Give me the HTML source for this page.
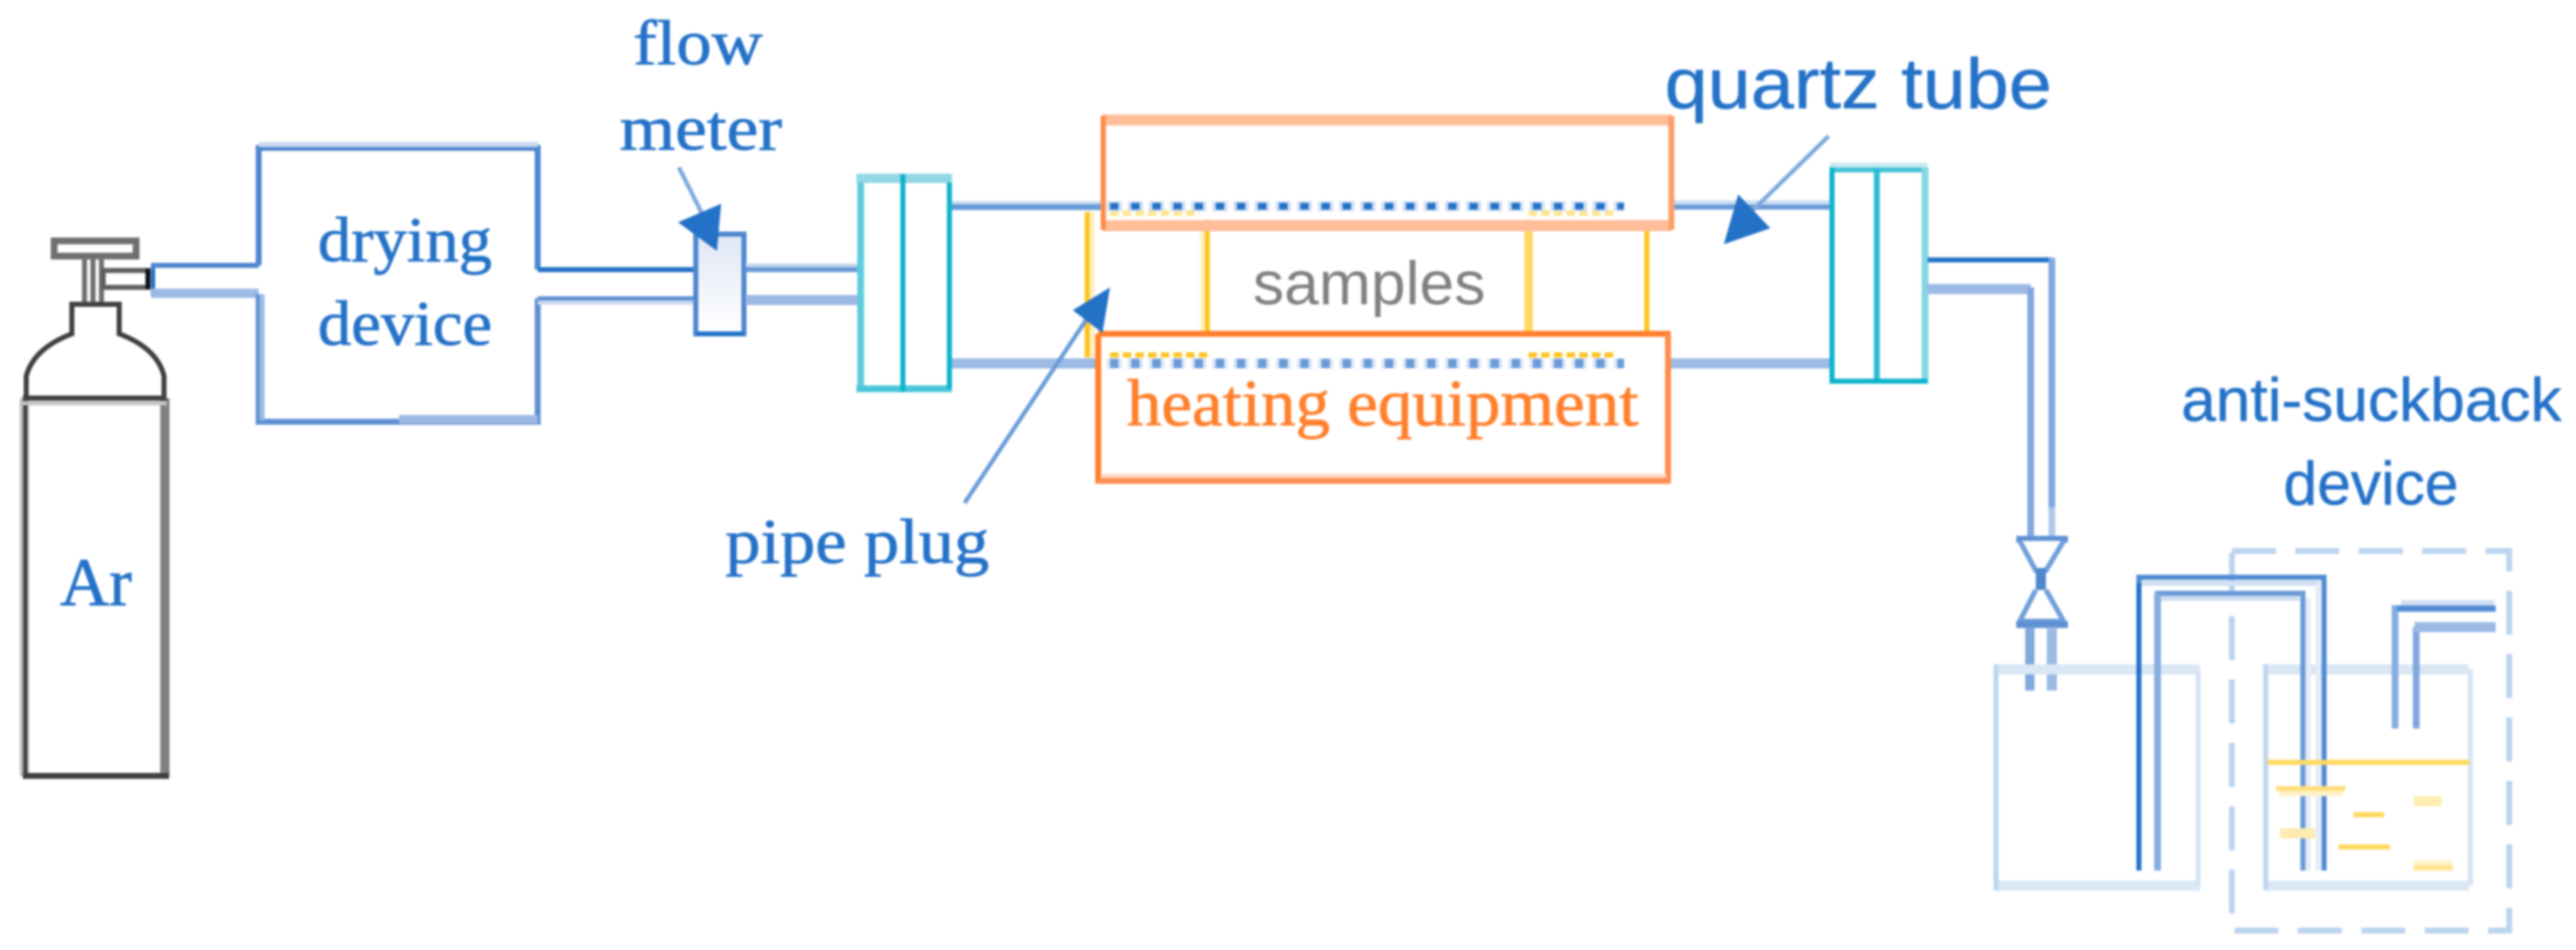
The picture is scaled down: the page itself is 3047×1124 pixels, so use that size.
<!DOCTYPE html>
<html><head><meta charset="utf-8"><style>
html,body{margin:0;padding:0;background:#fff;width:3047px;height:1124px;overflow:hidden}
svg{display:block;filter:blur(1.3px)}
.s{font-family:"Liberation Serif",serif;fill:#2472c8;stroke:#2472c8;stroke-width:.9px}
.n{font-family:"Liberation Sans",sans-serif;fill:#2472c8;stroke:#2472c8;stroke-width:.6px}
</style></head><body>
<svg xmlns="http://www.w3.org/2000/svg" width="3047" height="1124" viewBox="0 0 3047 1124" fill="none">
<defs><linearGradient id="mg" x1="0" y1="0" x2="0" y2="1"><stop offset="0" stop-color="#dfe7f5"/><stop offset="1" stop-color="#fff"/></linearGradient></defs>

<!-- cylinder -->
<g stroke-linecap="butt">
<path d="M29 471V918" stroke="#bdbdbd" stroke-width="11"/><path d="M30 471V918" stroke="#404040" stroke-width="5"/>
<path d="M195 471V918" stroke="#808080" stroke-width="11"/>
<path d="M27 918H200" stroke="#404040" stroke-width="7"/>
<path d="M27 471H197" stroke="#404040" stroke-width="6"/><path d="M27 477H197" stroke="#c4c4c4" stroke-width="5"/>
<path d="M31 468V445Q40 412 85 395V360H141V395Q186 412 194 445V468" stroke="#404040" stroke-width="6"/>
<rect x="64" y="285" width="97" height="18" stroke="#707070" stroke-width="8" fill="#fff"/>
<path d="M100 303V357M110 303V357M120 303V357" stroke="#707070" stroke-width="6"/>
<rect x="122" y="320" width="53" height="20" stroke="#606060" stroke-width="6" fill="#fff"/>
<path d="M175 318V342" stroke="#111" stroke-width="6"/>
<path d="M181 312V350" stroke="#2472c8" stroke-width="5"/>
</g>

<!-- drying device and inlet pipes -->
<g>
<path d="M179 314H306" stroke="#4e86cf" stroke-width="6"/><path d="M179 347H306" stroke="#9cbae4" stroke-width="11"/>
<path d="M306 314V175H636V319" stroke="#4e86cf" stroke-width="7"/>
<path d="M306 171H636" stroke="#c9d9f0" stroke-width="6"/>
<path d="M306 348V499H636V353" stroke="#5f90d4" stroke-width="7"/>
<path d="M310 348V497" stroke="#9cbae4" stroke-width="6"/>
<path d="M472 496H636" stroke="#9cbae4" stroke-width="10"/>
<path d="M636 319H823" stroke="#2472c8" stroke-width="6"/>
<path d="M636 353H823" stroke="#5f90d4" stroke-width="5"/><path d="M636 358H823" stroke="#c9d9f0" stroke-width="5"/>
<rect x="823" y="277" width="57" height="118" stroke="#4e86cf" stroke-width="6" fill="url(#mg)"/>
<path d="M823 395H880" stroke="#2472c8" stroke-width="5"/>
<path d="M882 314H1014" stroke="#c9d9f0" stroke-width="5"/><path d="M882 319H1014" stroke="#6a9bd8" stroke-width="6"/>
<path d="M882 355H1014" stroke="#9cbae4" stroke-width="12"/>
</g>

<!-- left plug -->
<path d="M1013 211H1126" stroke="#92d7e5" stroke-width="11"/>
<path d="M1013 460H1126" stroke="#4ac6db" stroke-width="8"/>
<path d="M1018 216V457" stroke="#5ecbdd" stroke-width="8"/>
<path d="M1068 206V464" stroke="#0db3cd" stroke-width="6"/>
<path d="M1123 216V460" stroke="#0db3cd" stroke-width="6"/>

<!-- tube -->
<path d="M1126 240H1304" stroke="#cfdef2" stroke-width="5"/>
<path d="M1126 245H1304" stroke="#6a9bd8" stroke-width="7"/>
<path d="M1126 430H1299" stroke="#9cbae4" stroke-width="12"/>
<path d="M1977 240H2167" stroke="#cfdef2" stroke-width="6"/>
<path d="M1977 245H2167" stroke="#6a9bd8" stroke-width="6"/>
<path d="M1973 430H2167" stroke="#9cbae4" stroke-width="12"/>

<!-- yellow samples -->
<g stroke="#fdc31f">
<path d="M1286 251V423" stroke-width="6"/>
<path d="M1292 251V423" stroke="#fff0c0" stroke-width="6"/>
<path d="M1428 260V394" stroke-width="6"/><path d="M1422 260V394" stroke="#fff0c0" stroke-width="5"/>
<path d="M1808 260V394" stroke="#ffd85f" stroke-width="10"/>
<path d="M1948 262V394" stroke-width="6"/>
<path d="M1313 252H1419M1808 252H1910" stroke-width="7" stroke="#ffe58c" stroke-dasharray="10 5"/>
<path d="M1313 420H1433M1808 420H1910" stroke-width="6" stroke-dasharray="10 5"/>
</g>

<!-- furnaces -->
<path d="M1304 142H1977" stroke="#ffbd99" stroke-width="13"/>
<path d="M1304 267H1977" stroke="#ffbd99" stroke-width="13"/>
<path d="M1305 137V272" stroke="#ff8a45" stroke-width="6"/>
<path d="M1977 137V272" stroke="#ff9d66" stroke-width="7"/>
<path d="M1299 395H1976" stroke="#ff7f2b" stroke-width="7"/>
<path d="M1299 395V572" stroke="#ff7f2b" stroke-width="7"/>
<path d="M1973 395V572" stroke="#ff8c48" stroke-width="7"/>
<path d="M1299 569H1976" stroke="#ff8f55" stroke-width="7"/><path d="M1302 563H1971" stroke="#ffdcc8" stroke-width="5"/>

<!-- dotted tube walls -->
<path d="M1309 244H1921" stroke="#d2e0f3" stroke-width="12" stroke-dasharray="18 7"/>
<path d="M1313 244H1921" stroke="#2472c8" stroke-width="8" stroke-dasharray="10 15"/>
<path d="M1309 430H1921" stroke="#dce7f6" stroke-width="12" stroke-dasharray="18 7"/>
<path d="M1313 430H1921" stroke="#6a9bd8" stroke-width="11" stroke-dasharray="10 15"/>

<!-- right plug -->
<path d="M2164 195H2280" stroke="#c5eaf0" stroke-width="5"/>
<path d="M2164 201H2280" stroke="#44c2d7" stroke-width="6"/>
<path d="M2167 198V454" stroke="#0db3cd" stroke-width="6"/>
<path d="M2220 198V454" stroke="#2cbcd3" stroke-width="7"/>
<path d="M2277 198V454" stroke="#84d6e4" stroke-width="8"/>
<path d="M2164 451H2280" stroke="#0db3cd" stroke-width="6"/>

<!-- outlet pipes -->
<path d="M2280 307.500H2427" stroke="#2472c8" stroke-width="6"/>
<path d="M2427 305V635" stroke="#80a8de" stroke-width="8"/>
<path d="M2280 342H2402" stroke="#9cbae4" stroke-width="12"/>
<path d="M2402 340V635" stroke="#80a8de" stroke-width="8"/>
<path d="M2427 600V635" stroke="#b0c8ea" stroke-width="8"/>

<!-- valve -->
<path d="M2385 638H2446" stroke="#5f90d4" stroke-width="8"/>
<path d="M2389 640L2408 675H2420L2441 640" stroke="#6f9fdc" stroke-width="6" fill="#fff"/>
<path d="M2408 698L2389 735H2441L2420 698" stroke="#6f9fdc" stroke-width="6" fill="#fff"/>
<path d="M2414 672V698" stroke="#4e86cf" stroke-width="12"/>
<path d="M2385 739H2446" stroke="#5f90d4" stroke-width="8"/>
<path d="M2401 742V817" stroke="#80a8de" stroke-width="11"/>
<path d="M2427 742V817" stroke="#9cbae4" stroke-width="12"/>

<!-- dashed anti-suckback box -->
<path d="M2640 652H2968V1101H2640V652" stroke="#bcd4ee" stroke-width="7" stroke-dasharray="52 23"/>

<!-- bottles -->
<g stroke="#dae7f5">
<path d="M2361 792H2602M2361 1048H2602M2680 792H2920M2680 1048H2920" stroke-width="12"/>
<path d="M2361 786V1053M2680 786V1053" stroke="#bfd6ed" stroke-width="6"/>
<path d="M2600 792V1048M2922 792V1048" stroke="#d6e4f4" stroke-width="6"/>
</g>

<!-- U tubes -->
<path d="M2530 1030V683H2749V1030" stroke="#4f8bd3" stroke-width="6"/>
<path d="M2530 690V1030" stroke="#2472c8" stroke-width="6"/>
<path d="M2533 690H2745" stroke="#cfdef2" stroke-width="6"/>
<path d="M2742 690V1030" stroke="#e4ecf8" stroke-width="6"/>
<path d="M2552 1030V702H2724V1030" stroke="#6a9bd8" stroke-width="6"/>
<path d="M2552 702V1030" stroke="#85ade0" stroke-width="8"/>
<path d="M2556 708H2720" stroke="#cfdef2" stroke-width="6"/>
<path d="M2730 708V1030" stroke="#e4ecf8" stroke-width="6"/>
<path d="M2833 862V720H2952" stroke="#85ade0" stroke-width="8"/>
<path d="M2835 720H2952" stroke="#4f8bd3" stroke-width="6"/>
<path d="M2840 713H2950" stroke="#cfdef2" stroke-width="6"/>
<path d="M2858 862V742" stroke="#80a8de" stroke-width="8"/>
<path d="M2856 742H2952" stroke="#9cbae4" stroke-width="12"/>

<!-- liquid -->
<path d="M2682 902H2921" stroke="#ffd85f" stroke-width="6"/>
<path d="M2692 933H2774" stroke="#ffdf7e" stroke-width="6"/><path d="M2696 939H2771" stroke="#fff2c8" stroke-width="6"/>
<path d="M2855 948H2888" stroke="#ffeeb0" stroke-width="12"/>
<path d="M2784 964H2820" stroke="#ffd85f" stroke-width="6"/>
<path d="M2697 986H2738" stroke="#fdebb0" stroke-width="12"/>
<path d="M2766 1002H2827" stroke="#ffd85f" stroke-width="6"/>
<path d="M2855 1021H2901" stroke="#fff2c8" stroke-width="6"/><path d="M2855 1027H2901" stroke="#ffe38a" stroke-width="6"/>

<!-- arrows -->
<path d="M803 198L835 262" stroke="#7fa8de" stroke-width="5"/>
<polygon points="853,241 848,297 802,263" fill="#2472c8"/>
<path d="M1141 595L1285 378" stroke="#6a9bd8" stroke-width="5"/>
<polygon points="1313,340 1304,394 1269,367" fill="#2472c8"/>
<path d="M2163 161L2072 250" stroke="#7fa8de" stroke-width="5"/>
<polygon points="2056,230 2094,270 2039,289" fill="#2472c8"/>

<!-- labels -->
<g font-size="75">
<text class="s" x="749" y="76" textLength="153" lengthAdjust="spacingAndGlyphs">flow</text>
<text class="s" x="733" y="177" textLength="192" lengthAdjust="spacingAndGlyphs">meter</text>
<text class="s" x="376" y="309" textLength="206" lengthAdjust="spacingAndGlyphs">drying</text>
<text class="s" x="376" y="408" textLength="206" lengthAdjust="spacingAndGlyphs">device</text>
<text class="s" x="71" y="716" font-size="80" textLength="85" lengthAdjust="spacingAndGlyphs">Ar</text>
<text class="s" x="858" y="666" textLength="312" lengthAdjust="spacingAndGlyphs">pipe plug</text>
</g>
<text x="1333" y="503" font-size="78" font-family="Liberation Serif, serif" fill="#ff7f2b" stroke="#ff7f2b" stroke-width=".9" textLength="605" lengthAdjust="spacingAndGlyphs">heating equipment</text>
<text x="1482" y="360" font-size="72" font-family="Liberation Sans, sans-serif" fill="#808080" textLength="275" lengthAdjust="spacingAndGlyphs">samples</text>
<text class="n" x="1969" y="128" font-size="84" textLength="458" lengthAdjust="spacingAndGlyphs">quartz tube</text>
<text class="n" x="2580" y="498" font-size="72" textLength="450" lengthAdjust="spacingAndGlyphs">anti-suckback</text>
<text class="n" x="2701" y="597" font-size="72" textLength="207" lengthAdjust="spacingAndGlyphs">device</text>
</svg>
</body></html>
